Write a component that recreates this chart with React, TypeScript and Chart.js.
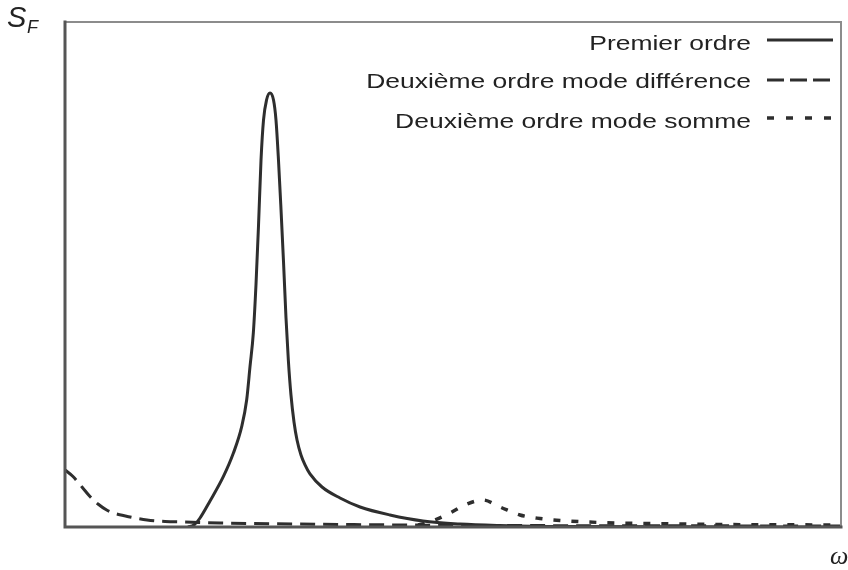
import { useEffect, useRef } from 'react';
import { Chart, registerables } from 'chart.js';

Chart.register(...registerables);

// Spectre de l'effort : réponse du premier ordre et termes du second ordre
const premierOmega = [15.85, 16.62, 17.4, 18.69, 20.4, 21.69, 22.77, 23.41, 23.84, 24.27, 24.61, 24.94, 25.26, 25.58, 25.97, 26.42, 26.87, 27.19, 27.51, 27.84, 28.16, 28.48, 28.78, 29.12, 29.51, 29.9, 30.41, 30.93, 31.57, 33.12, 35.44, 38.02, 41.88, 46.13, 50.9, 56.06, 63.8, 100];
const premierS = [0, 0.4, 1.78, 5.15, 9.96, 14.59, 19.86, 25.15, 31.74, 38.42, 47.92, 59.8, 72.67, 80.59, 84.55, 85.94, 84.55, 80.59, 72.67, 62.77, 52.48, 41.39, 33.07, 26.14, 20.79, 17.23, 14.26, 12.28, 10.5, 7.92, 5.74, 3.96, 2.38, 1.19, 0.59, 0.3, 0.1, 0];

const differenceOmega = [0, 1.03, 2.19, 3.22, 4.25, 5.37, 6.44, 7.51, 9.02, 10.57, 12.89, 15.46, 19.97, 30.28, 43.17, 56.06, 100];
const differenceS = [11.29, 10.0, 7.92, 6.04, 4.55, 3.37, 2.67, 2.28, 1.78, 1.39, 1.09, 0.99, 0.79, 0.59, 0.4, 0.3, 0.2];

const sommeOmega = [43.17, 45.75, 47.68, 49.61, 51.8, 53.87, 56.06, 58.63, 61.21, 63.79, 68.94, 75.39, 84.41, 100];
const sommeS = [0.1, 0.5, 1.39, 2.77, 4.55, 5.35, 3.96, 2.38, 1.68, 1.29, 0.89, 0.69, 0.5, 0.4];

const seriesLabels = ['Premier ordre', 'Deuxième ordre mode différence', 'Deuxième ordre mode somme'];
const yTitle = 'S';
const yTitleSub = 'F';
const xTitle = 'ω';

const ink = '#2e2e2e';

const toPoints = (xs: number[], ys: number[]) => xs.map((x, i) => ({ x, y: ys[i] }));

// Cadre, titres d'axes et légende dessinés à la main
const decorPlugin = {
  id: 'decor',
  afterDatasetsDraw(chart: any) {
    const { ctx, chartArea } = chart;
    const { left, right, top, bottom } = chartArea;
    ctx.save();

    // cadre : haut et droite fins, gauche et bas épais
    ctx.lineCap = 'square';
    ctx.strokeStyle = '#8c8c8c';
    ctx.lineWidth = 2;
    ctx.beginPath();
    ctx.moveTo(left, top);
    ctx.lineTo(right, top);
    ctx.lineTo(right, bottom);
    ctx.stroke();
    ctx.strokeStyle = '#555';
    ctx.lineWidth = 3;
    ctx.beginPath();
    ctx.moveTo(left, top);
    ctx.lineTo(left, bottom);
    ctx.lineTo(right, bottom);
    ctx.stroke();

    // titre de l'axe vertical
    ctx.fillStyle = '#222';
    ctx.textAlign = 'left';
    ctx.textBaseline = 'alphabetic';
    ctx.font = 'italic 29px "Liberation Sans", Arial, sans-serif';
    ctx.fillText(yTitle, left - 58, top + 5);
    ctx.font = 'italic 18px "Liberation Sans", Arial, sans-serif';
    ctx.fillText(yTitleSub, left - 38, top + 11);

    // titre de l'axe horizontal
    ctx.font = 'italic 26px "Liberation Serif", "DejaVu Serif", serif';
    ctx.fillText(xTitle, right - 11, bottom + 37);

    // légende
    const rows = [
      { text: seriesLabels[0], base: top + 28, line: top + 18 },
      { text: seriesLabels[1], base: top + 66, line: top + 58 },
      { text: seriesLabels[2], base: top + 106, line: top + 96 },
    ];
    chart.data.datasets.forEach((ds: any, i: number) => {
      const r = rows[i];
      ctx.save();
      ctx.translate(left + 686, r.base);
      ctx.scale(1.26, 1);
      ctx.font = '21px "Liberation Sans", Arial, sans-serif';
      ctx.textAlign = 'right';
      ctx.fillStyle = '#222';
      ctx.fillText(r.text, 0, 0);
      ctx.restore();
      ctx.strokeStyle = ds.borderColor;
      ctx.lineWidth = ds.borderWidth;
      ctx.lineCap = 'butt';
      ctx.setLineDash(i === 1 ? [17, 6] : i === 2 ? [7, 12] : []);
      ctx.beginPath();
      ctx.moveTo(left + 702, r.line);
      ctx.lineTo(left + 768, r.line);
      ctx.stroke();
      ctx.setLineDash([]);
    });

    ctx.restore();
  },
};

export default function App() {
  const canvasRef = useRef<HTMLCanvasElement | null>(null);

  useEffect(() => {
    document.body.style.margin = '0';
    const canvas = canvasRef.current;
    if (!canvas) return;
    const chart = new Chart(canvas, {
      type: 'line',
      data: {
        datasets: [
          {
            label: seriesLabels[0],
            data: toPoints(premierOmega, premierS),
            borderColor: ink,
            borderWidth: 3,
            pointRadius: 0,
            cubicInterpolationMode: 'monotone',
          },
          {
            label: seriesLabels[1],
            data: toPoints(differenceOmega, differenceS),
            borderColor: ink,
            borderWidth: 3,
            borderDash: [15, 8],
            pointRadius: 0,
            cubicInterpolationMode: 'monotone',
          },
          {
            label: seriesLabels[2],
            data: toPoints(sommeOmega, sommeS),
            borderColor: ink,
            borderWidth: 3.5,
            borderDash: [7, 11],
            pointRadius: 0,
            cubicInterpolationMode: 'monotone',
          },
        ],
      },
      options: {
        animation: false,
        responsive: false,
        layout: { padding: { left: 65, right: 7, top: 22, bottom: 43 } },
        plugins: { legend: { display: false }, tooltip: { enabled: false } },
        scales: {
          x: { type: 'linear', min: 0, max: 100, display: false },
          y: { type: 'linear', min: 0, max: 100, display: false },
        },
      },
      plugins: [decorPlugin],
    });
    return () => chart.destroy();
  }, []);

  return (
    <div style={{ width: 848, height: 570, background: '#fff' }}>
      <canvas ref={canvasRef} width={848} height={570} />
    </div>
  );
}
